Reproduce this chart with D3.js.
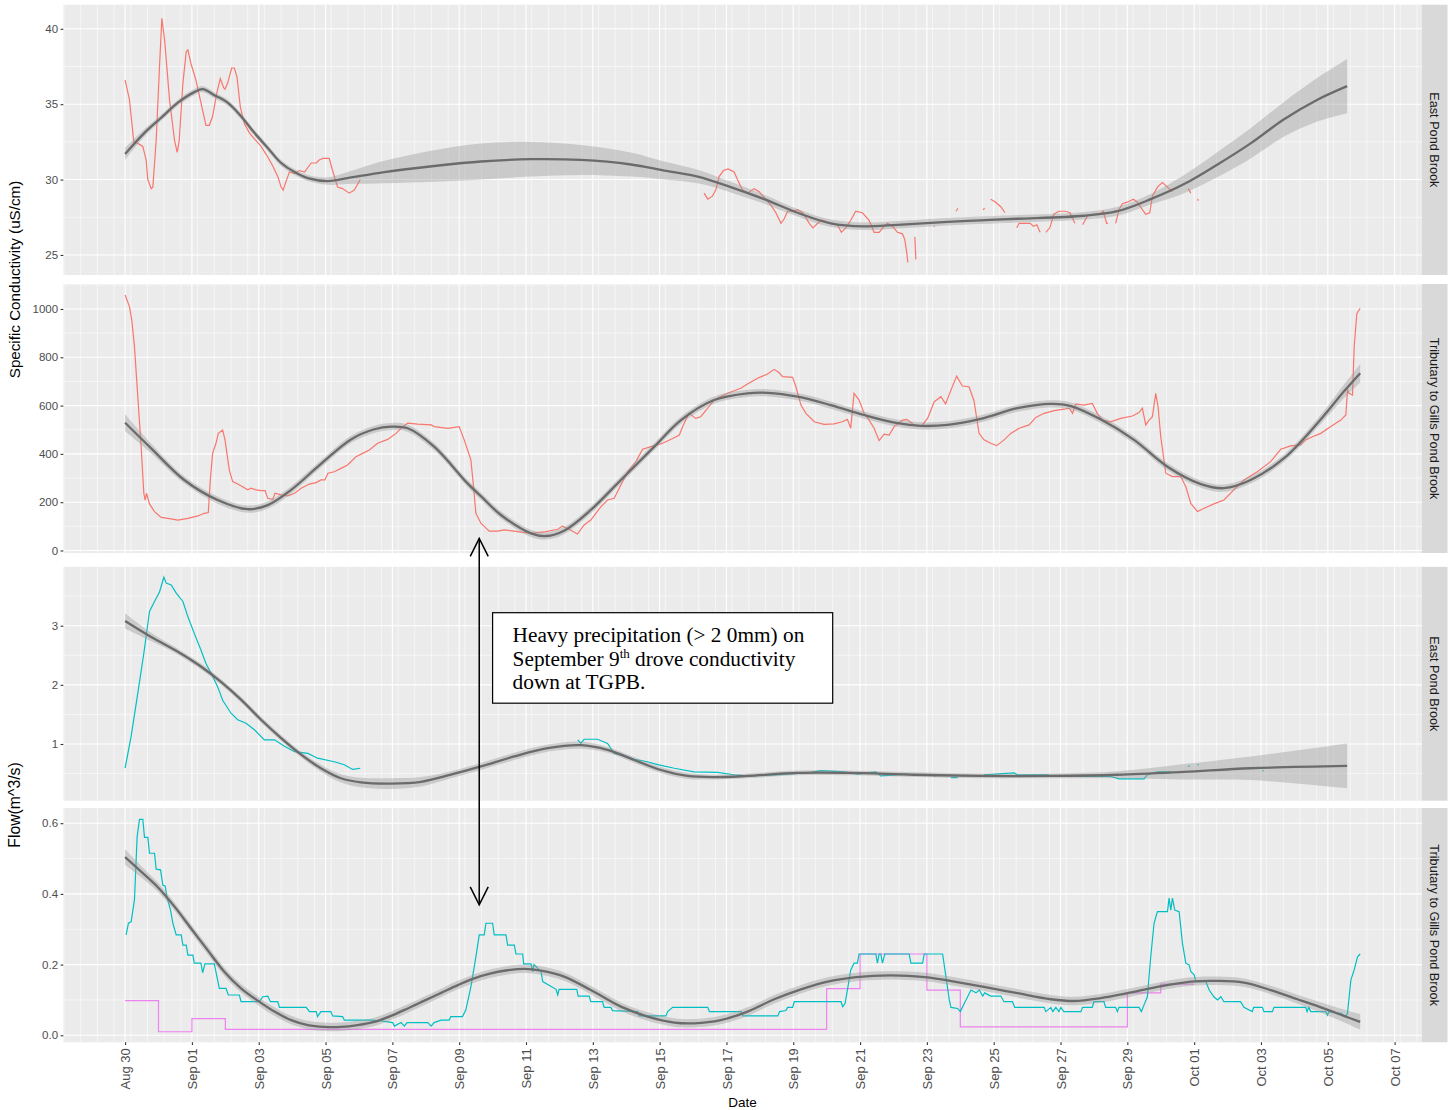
<!DOCTYPE html>
<html>
<head>
<meta charset="utf-8">
<script src="https://cdn.jsdelivr.net/npm/d3@7/dist/d3.min.js"></script>
<style>
  body { margin: 0; background: #fff; }
  svg { display: block; }
  text { font-family: "Liberation Sans", Arial, sans-serif; }
</style>
</head>
<body>
<div id="chart"></div>
<script>
// days are counted from Aug 30 00:00; null marks a gap in the record

const xTickDays = [0, 2, 4, 6, 8, 10, 12, 14, 16, 18, 20, 22, 24, 26, 28, 30, 32, 34, 36, 38];
const xTickLabels = ["Aug 30", "Sep 01", "Sep 03", "Sep 05", "Sep 07", "Sep 09", "Sep 11", "Sep 13",
  "Sep 15", "Sep 17", "Sep 19", "Sep 21", "Sep 23", "Sep 25", "Sep 27", "Sep 29",
  "Oct 01", "Oct 03", "Oct 05", "Oct 07"];

const stripLabels = ["East Pond Brook", "Tributary to Gills Pond Brook", "East Pond Brook", "Tributary to Gills Pond Brook"];

const condTicksEpb = [25, 30, 35, 40];
const condTicksTrb = [0, 200, 400, 600, 800, 1000];
const flowTicksEpb = [1, 2, 3];
const flowTicksTrb = [0, 0.2, 0.4, 0.6];

// East Pond Brook conductivity (uS/cm)
const epbCond = [
  [0.00,36.6],[0.13,35.3],[0.26,32.5],[0.38,32.4],[0.53,32.2],[0.63,31.3],[0.68,30.0],[0.78,29.4],[0.83,29.5],[0.93,32.6],
  [1.03,37.5],[1.10,40.7],[1.18,39.3],[1.33,35.3],[1.48,32.6],[1.56,31.8],[1.62,32.6],[1.73,36.4],[1.83,38.5],[1.88,38.6],
  [1.97,37.7],[2.12,36.6],[2.27,35.1],[2.42,33.6],[2.52,33.6],[2.62,34.2],[2.75,35.8],[2.85,36.7],[2.95,36.1],[2.99,36.0],
  [3.07,36.4],[3.19,37.4],[3.27,37.4],[3.35,36.8],[3.45,34.8],[3.57,33.7],[3.72,33.1],[3.87,32.7],[4.07,32.2],[4.27,31.5],
  [4.42,30.9],[4.57,30.2],[4.67,29.5],[4.73,29.3],[4.82,29.9],[4.92,30.5],[5.07,30.4],[5.22,30.6],[5.37,30.5],[5.57,31.1],
  [5.72,31.1],[5.81,31.3],[5.92,31.4],[6.11,31.4],[6.21,30.6],[6.36,29.5],[6.51,29.4],[6.71,29.1],[6.86,29.3],[7.04,30.0],
  null,
  [17.33,29.1],[17.44,28.7],[17.58,28.9],[17.68,29.3],[17.78,30.2],[17.91,30.6],[18.05,30.7],[18.23,30.5],[18.33,30.0],[18.48,29.3],
  [18.63,29.1],[18.83,29.4],[18.98,29.2],[19.13,28.8],[19.33,28.3],[19.48,27.8],[19.63,27.1],[19.73,27.4],[19.83,27.9],[19.98,27.9],
  [20.13,28.0],[20.28,27.8],[20.48,27.1],[20.59,26.8],[20.73,27.1],[20.87,27.3],[21.12,27.1],[21.32,27.0],[21.44,26.5],[21.57,26.8],
  [21.72,27.3],[21.87,27.9],[22.07,27.8],[22.27,27.3],[22.42,26.5],[22.57,26.5],[22.72,26.9],[22.82,27.1],[22.97,26.9],[23.12,26.5],
  [23.27,26.4],[23.34,26.0],[23.40,25.1],[23.43,24.5],
  null, [23.64,26.2],[23.67,24.7],
  null, [24.20,26.9],[24.23,26.9],
  null, [24.87,27.9],[24.93,28.1],
  null, [25.68,28.0],[25.73,28.1],
  null, [25.91,28.7],[26.06,28.5],[26.21,28.2],[26.34,27.8],
  null, [26.69,26.8],[26.76,27.1],[26.91,27.1],[27.09,27.1],[27.19,26.9],[27.29,27.0],[27.39,26.5],
  null, [27.56,26.5],[27.68,26.8],[27.80,27.7],[27.95,27.9],[28.15,27.9],[28.28,27.8],[28.43,27.1],
  null, [28.66,27.0],[28.81,27.6],[29.00,27.7],[29.18,27.7],[29.28,27.9],[29.38,27.1],[29.42,27.1],
  null, [29.65,27.1],[29.75,28.0],[29.85,28.4],[30.00,28.5],[30.18,28.7],[30.30,28.5],[30.45,28.0],[30.55,27.7],[30.67,27.8],
  [30.75,28.9],[30.90,29.5],[31.05,29.8],[31.20,29.5],[31.35,29.2],
  null, [31.82,29.4],[31.90,29.1],
  null, [32.10,28.7],[32.13,28.6]
];

// [day, fit, half band]
const epbCondFit = [
  [0,31.7,0.4],[0.58,33.1,0.25],[1.08,34.1,0.2],[1.58,35.1,0.2],[2.07,35.8,0.2],[2.32,36.0,0.2],[2.67,35.6,0.2],
  [3.07,35.1,0.2],[3.47,34.2,0.2],[3.87,33.1,0.2],[4.27,32.1,0.2],[4.67,31.1,0.2],[5.07,30.5,0.2],[5.47,30.1,0.2],
  [6.07,29.9,0.25],[6.66,30.1,0.4],[7.76,30.5,0.75],[9.25,30.9,1.05],[10.65,31.2,1.2],[12.15,31.35,1.15],
  [13.64,31.3,1.0],[15.14,31.0,0.8],[16.14,30.6,0.6],[17.14,30.2,0.45],[18.13,29.5,0.35],[19.13,28.7,0.3],
  [20.13,27.8,0.25],[21.12,27.1,0.25],[22.12,26.9,0.25],[23.12,27.0,0.25],[24.62,27.2,0.25],[25.61,27.3,0.25],
  [26.71,27.4,0.25],[28.70,27.6,0.25],[29.70,27.9,0.3],[30.70,28.7,0.35],[31.70,29.7,0.6],[32.70,31.0,0.83],
  [33.69,32.4,1.0],[34.69,34.0,1.15],[35.69,35.3,1.45],[36.58,36.2,1.8]
];

// Tributary to Gills Pond Brook conductivity (uS/cm)
const trbCond = [
  [0.00,1058],[0.13,1010],[0.20,954],[0.28,844],[0.38,637],[0.48,430],[0.56,237],[0.60,209],[0.64,237],[0.73,193],
  [0.88,161],[1.08,137],[1.28,133],[1.58,126],[1.88,133],[2.18,143],[2.37,154],[2.49,157],[2.55,292],[2.62,402],
  [2.72,444],[2.79,485],[2.92,499],[2.99,458],[3.12,333],[3.22,285],[3.37,275],[3.52,264],[3.67,251],[3.77,258],
  [3.92,251],[4.07,248],[4.19,248],[4.27,216],[4.42,212],[4.49,237],[4.67,230],[4.87,226],[5.07,237],[5.27,258],
  [5.51,275],[5.72,281],[5.86,292],[5.98,292],[6.07,320],[6.26,326],[6.46,340],[6.66,354],[6.91,388],[7.11,402],
  [7.31,416],[7.56,444],[7.86,460],[8.11,485],[8.31,513],[8.46,527],[8.76,523],[9.16,520],[9.25,513],[9.66,506],
  [10.00,513],[10.15,458],[10.35,375],[10.43,264],[10.50,154],[10.65,113],[10.90,80],[11.15,80],[11.35,85],[11.75,78],
  [12.15,71],[12.60,78],[12.95,88],[13.09,101],[13.29,88],[13.54,68],[13.74,106],[13.94,126],[14.24,181],[14.44,209],
  [14.64,216],[14.84,271],[15.04,326],[15.29,368],[15.49,419],[15.74,430],[16.09,444],[16.39,464],[16.59,478],[16.69,513],
  [16.88,568],[17.08,547],[17.23,554],[17.44,589],[17.63,623],[18.03,651],[18.43,672],[18.63,689],[18.93,713],[19.23,731],
  [19.43,750],[19.58,736],[19.68,720],[19.98,717],[20.08,678],[20.23,602],[20.38,568],[20.63,533],[20.92,522],[21.22,524],
  [21.47,533],[21.62,543],[21.72,506],[21.82,651],[21.97,623],[22.12,568],[22.27,540],[22.42,506],[22.57,455],[22.72,482],
  [22.87,478],[23.02,513],[23.27,540],[23.40,543],[23.62,520],[23.82,513],[24.02,547],[24.22,616],[24.42,637],[24.56,607],
  [24.72,664],[24.89,722],[25.06,681],[25.26,678],[25.41,620],[25.56,485],[25.71,458],[25.91,444],[26.09,434],[26.31,458],
  [26.51,485],[26.76,506],[27.06,520],[27.26,551],[27.51,568],[27.81,579],[28.11,585],[28.26,589],[28.36,568],[28.46,607],
  [28.70,602],[28.95,609],[29.10,568],[29.25,540],[29.50,533],[29.80,547],[30.15,557],[30.35,571],[30.45,589],[30.55,520],
  [30.65,540],[30.75,554],[30.85,651],[30.92,595],[31.00,471],[31.15,320],[31.35,306],[31.60,306],[31.75,264],[31.90,195],
  [32.10,161],[32.30,175],[32.59,193],[32.89,209],[33.19,251],[33.49,292],[33.89,326],[34.29,368],[34.59,419],[34.89,433],
  [35.19,437],[35.34,458],[35.54,471],[35.79,485],[36.09,513],[36.39,540],[36.54,561],[36.59,664],[36.64,651],[36.74,644],
  [36.79,844],[36.87,982],[36.97,1003]
];

const trbCondFit = [
  [0,529,35],[0.78,423,20],[1.77,292,15],[2.77,209,15],[3.67,171,15],[4.27,188,15],[4.97,251,15],[5.77,347,15],
  [6.76,460,15],[7.46,502,15],[7.96,513,15],[8.46,506,15],[9.25,430,15],[10.25,278,15],[10.65,225,15],[11.25,147,15],
  [12.15,71,15],[12.60,60,15],[13.14,82,15],[13.94,168,15],[14.84,292,15],[15.84,430,15],[16.64,540,15],[17.63,623,15],
  [18.63,651,15],[19.23,653,15],[20.13,637,15],[21.12,602,15],[22.12,561,15],[23.12,527,15],[23.82,516,15],[24.62,520,15],
  [25.61,545,15],[26.71,589,15],[27.71,607,15],[28.31,598,15],[29.20,543,15],[30.20,458,15],[31.20,347,15],[32.20,275,15],
  [32.89,258,15],[33.69,292,15],[34.69,382,15],[35.69,527,18],[36.48,658,28],[36.97,734,38]
];

// East Pond Brook flow (m^3/s)
const epbFlow = [
  [0.00,0.59],[0.18,1.13],[0.38,1.86],[0.56,2.53],[0.73,3.24],[0.88,3.41],[1.03,3.57],[1.16,3.82],[1.23,3.72],[1.38,3.69],
  [1.53,3.55],[1.73,3.41],[1.88,3.15],[2.07,2.87],[2.27,2.59],[2.42,2.36],[2.57,2.20],[2.77,1.97],[2.92,1.74],[3.17,1.52],
  [3.37,1.41],[3.62,1.35],[3.87,1.24],[4.17,1.07],[4.47,1.07],[4.77,0.96],[5.07,0.87],[5.47,0.84],[5.76,0.76],[6.26,0.70],
  [6.56,0.65],[6.81,0.57],[7.04,0.59],
  null,
  [13.55,1.07],[13.64,1.01],[13.74,1.08],[14.14,1.08],[14.44,1.01],[14.64,0.84],[14.94,0.80],[15.24,0.74],[15.64,0.70],
  [15.94,0.65],[16.44,0.59],[17.03,0.53],[17.73,0.52],[18.23,0.48],[18.63,0.46],[19.63,0.48],[20.53,0.52],[20.83,0.55],
  [21.52,0.53],[21.92,0.49],[22.47,0.53],[22.62,0.46],[23.42,0.49],[23.62,0.47],
  null, [24.20,0.46],[24.27,0.46],
  null, [24.72,0.43],[24.92,0.43],
  null, [25.71,0.48],[26.61,0.51],[26.71,0.48],[27.61,0.48],[27.71,0.46],[28.70,0.45],[29.50,0.45],[29.75,0.41],
  [30.50,0.41],[30.60,0.48],[30.90,0.53],[31.30,0.53],
  null, [31.82,0.62],[31.87,0.63],
  null, [32.10,0.65],[32.14,0.65],
  null, [34.04,0.55],[34.08,0.55]
];

const epbFlowFit = [
  [0,3.08,0.13],[0.78,2.81,0.07],[1.58,2.56,0.05],[2.27,2.31,0.05],[2.87,2.05,0.05],[3.47,1.75,0.05],[4.07,1.41,0.05],
  [4.67,1.10,0.05],[5.27,0.82,0.05],[5.86,0.59,0.06],[6.46,0.42,0.07],[7.06,0.35,0.08],[7.96,0.33,0.09],[8.86,0.36,0.08],
  [9.75,0.48,0.06],[10.65,0.62,0.06],[11.65,0.79,0.06],[12.65,0.93,0.06],[13.64,0.98,0.06],[14.44,0.90,0.05],
  [15.24,0.73,0.05],[16.04,0.56,0.05],[16.84,0.46,0.05],[17.63,0.44,0.04],[18.63,0.46,0.04],[20.13,0.51,0.04],
  [21.62,0.51,0.04],[23.62,0.48,0.04],[25.61,0.46,0.04],[27.71,0.46,0.04],[29.70,0.48,0.06],[31.70,0.53,0.13],
  [33.69,0.59,0.2],[36.58,0.63,0.38]
];

// Tributary to Gills Pond Brook flow (m^3/s)
const trbFlow = [
  [0.03,0.284],[0.10,0.317],[0.18,0.321],[0.28,0.383],[0.36,0.562],[0.43,0.611],[0.53,0.611],[0.58,0.560],[0.68,0.560],
  [0.73,0.515],[0.88,0.515],[0.93,0.470],[1.06,0.468],[1.13,0.425],[1.20,0.422],[1.26,0.388],[1.36,0.354],[1.43,0.317],
  [1.53,0.284],[1.68,0.284],[1.73,0.255],[1.83,0.255],[1.88,0.227],[2.03,0.227],[2.07,0.204],[2.27,0.204],[2.32,0.177],
  [2.39,0.202],[2.67,0.202],[2.82,0.133],[3.02,0.133],[3.09,0.114],[3.42,0.114],[3.47,0.095],[4.02,0.095],[4.12,0.109],
  [4.27,0.111],[4.35,0.095],[4.57,0.095],[4.62,0.079],[5.42,0.079],[5.52,0.067],[5.72,0.067],[5.76,0.053],[5.86,0.067],
  [6.16,0.067],[6.21,0.055],[6.51,0.053],[6.56,0.043],[7.36,0.043],[7.66,0.041],[8.01,0.036],[8.06,0.026],[8.26,0.036],
  [8.36,0.026],[8.44,0.036],[9.06,0.036],[9.16,0.026],[9.25,0.036],[9.46,0.043],[9.70,0.043],[9.75,0.053],[10.10,0.053],
  [10.20,0.072],[10.35,0.137],[10.50,0.222],[10.60,0.284],[10.75,0.284],[10.80,0.317],[11.00,0.317],[11.05,0.284],
  [11.40,0.284],[11.45,0.255],[11.65,0.255],[11.70,0.230],[11.90,0.230],[11.93,0.202],[12.15,0.202],[12.20,0.180],
  [12.24,0.200],[12.45,0.180],[12.50,0.152],[12.90,0.130],[12.95,0.114],[12.99,0.130],[13.52,0.130],[13.56,0.111],
  [13.89,0.111],[13.94,0.095],[14.29,0.095],[14.34,0.079],[14.54,0.079],[14.59,0.070],[15.34,0.067],[15.39,0.055],
  [16.19,0.055],[16.24,0.067],[16.39,0.079],[17.44,0.079],[17.49,0.067],[18.44,0.067],[18.49,0.055],[19.54,0.055],
  [19.59,0.067],[19.78,0.070],[19.83,0.079],[19.98,0.079],[20.03,0.095],[21.43,0.095],[21.48,0.081],[21.55,0.090],
  [21.62,0.128],[21.72,0.185],[21.82,0.204],[21.92,0.204],[21.97,0.230],[22.47,0.230],[22.52,0.204],[22.57,0.230],
  [22.62,0.230],[22.67,0.204],[22.74,0.230],[23.47,0.230],[23.52,0.204],[23.87,0.204],[23.92,0.230],[24.47,0.230],
  [24.57,0.166],[24.67,0.100],[24.72,0.079],[24.92,0.076],[25.00,0.067],[25.17,0.100],[25.32,0.128],[25.47,0.120],
  [25.57,0.128],[25.67,0.111],[25.73,0.120],[25.91,0.111],[26.21,0.111],[26.31,0.095],[26.56,0.095],[26.63,0.079],
  [27.51,0.079],[27.56,0.067],[27.71,0.079],[27.77,0.067],[27.86,0.079],[27.95,0.067],[28.01,0.079],[28.10,0.067],
  [28.61,0.067],[28.66,0.079],[28.95,0.079],[29.00,0.095],[29.30,0.095],[29.35,0.079],[29.65,0.079],[29.70,0.067],
  [29.75,0.079],[30.35,0.079],[30.42,0.067],[30.50,0.086],[30.60,0.109],[30.70,0.222],[30.80,0.317],[30.90,0.350],
  [31.20,0.350],[31.25,0.388],[31.30,0.354],[31.35,0.388],[31.42,0.354],[31.55,0.350],[31.65,0.260],[31.75,0.204],
  [31.85,0.199],[31.90,0.180],[32.00,0.171],[32.05,0.152],[32.35,0.152],[32.45,0.128],[32.59,0.109],[32.70,0.100],
  [32.80,0.109],[32.89,0.095],[33.39,0.095],[33.49,0.079],[33.74,0.067],[33.78,0.079],[34.04,0.079],[34.09,0.067],
  [34.34,0.067],[34.39,0.079],[35.34,0.079],[35.38,0.067],[35.43,0.079],[35.49,0.067],[35.94,0.067],[35.99,0.057],
  [36.03,0.067],[36.39,0.062],[36.54,0.053],[36.59,0.062],[36.69,0.156],[36.79,0.185],[36.89,0.222],[36.97,0.230]
];

// daily step record for the tributary (m^3/s), each value holds until the next day listed
const trbFlowDaily = [
  [0,0.098],[1,0.010],[2,0.047],[3,0.017],[21,0.132],[22,0.230],[24,0.128],[25,0.024],[30,0.120],[31,0.145],[32,0.145]
];

const trbFlowFit = [
  [0,0.504,0.022],[0.48,0.463,0.016],[0.98,0.419,0.013],[1.48,0.364,0.012],[1.97,0.303,0.012],[2.47,0.241,0.012],
  [2.97,0.180,0.012],[3.47,0.133,0.012],[3.97,0.098,0.012],[4.47,0.067,0.012],[4.97,0.043,0.012],[5.47,0.029,0.012],
  [5.96,0.024,0.012],[6.46,0.024,0.012],[6.96,0.029,0.012],[7.46,0.038,0.012],[7.96,0.055,0.012],[8.46,0.076,0.012],
  [8.96,0.098,0.012],[9.46,0.120,0.012],[9.96,0.142,0.012],[10.45,0.161,0.012],[10.95,0.175,0.012],[11.45,0.184,0.012],
  [11.95,0.188,0.012],[12.45,0.183,0.012],[13.14,0.166,0.012],[13.94,0.128,0.012],[14.84,0.081,0.012],[15.64,0.053,0.012],
  [16.44,0.036,0.012],[17.03,0.034,0.012],[17.83,0.043,0.012],[18.63,0.067,0.012],[19.43,0.102,0.012],[20.23,0.130,0.012],
  [21.03,0.152,0.012],[21.82,0.164,0.012],[22.62,0.169,0.012],[23.22,0.169,0.012],[24.02,0.164,0.012],[24.82,0.152,0.012],
  [25.71,0.137,0.012],[26.71,0.119,0.012],[27.71,0.102,0.012],[28.40,0.097,0.012],[29.20,0.105,0.012],[30.00,0.119,0.012],
  [30.90,0.137,0.012],[31.90,0.152,0.012],[32.70,0.154,0.012],[33.49,0.149,0.012],[34.29,0.128,0.012],[35.09,0.102,0.013],
  [35.88,0.076,0.015],[36.48,0.055,0.018],[36.97,0.038,0.022]
];

// ------------------------------------------------------------------

const W = 1452, H = 1110;
const plotL = 63.3, plotR = 1422, stripR = 1447.5;

const base = Date.UTC(2017, 7, 30);
const day = t => new Date(base + t * 864e5);

const x = d3.scaleUtc().domain([day(-1.85), day(38.82)]).range([plotL, plotR]);

const panels = [
  { top: 4.7, bottom: 275, domain: [23.67, 41.6], ticks: condTicksEpb, fmt: d3.format("d"),
    lines: [{ data: epbCond, color: "#F8766D" }], fit: epbCondFit },
  { top: 284, bottom: 553, domain: [-10.4, 1103.5], ticks: condTicksTrb, fmt: d3.format("d"),
    lines: [{ data: trbCond, color: "#F8766D" }], fit: trbCondFit },
  { top: 566.8, bottom: 800.7, domain: [0.041, 3.996], ticks: flowTicksEpb, fmt: d3.format("d"),
    lines: [{ data: epbFlow, color: "#00BFC4" }], fit: epbFlowFit },
  { top: 808, bottom: 1042.3, domain: [-0.0198, 0.643], ticks: flowTicksTrb, fmt: d3.format(".1f"),
    lines: [{ data: trbFlowDaily, color: "#EE82EE", step: true }, { data: trbFlow, color: "#00BFC4" }], fit: trbFlowFit }
];

const svg = d3.select("#chart").append("svg")
  .attr("width", W)
  .attr("height", H);

svg.append("rect").attr("width", W).attr("height", H).attr("fill", "#fff");

// vertical grid: majors on the labelled days, minors every 12 h
const xMajor = xTickDays.map(day);
const xMinor = d3.range(-1.83, 38.8, 0.5).map(day);

const scales = [];

panels.forEach((p, i) => {
  const y = d3.scaleLinear().domain(p.domain).range([p.bottom, p.top]);
  scales.push(y);
  const g = svg.append("g");

  g.append("clipPath").attr("id", "clip" + i)
    .append("rect")
    .attr("x", plotL).attr("y", p.top)
    .attr("width", plotR - plotL).attr("height", p.bottom - p.top);

  g.append("rect")
    .attr("x", plotL).attr("y", p.top)
    .attr("width", plotR - plotL).attr("height", p.bottom - p.top)
    .attr("fill", "#EBEBEB");

  const step = p.ticks[1] - p.ticks[0];
  const yMinor = d3.range(p.ticks[0] - step / 2, p.domain[1], step).filter(v => v > p.domain[0]);

  const grid = g.append("g").attr("clip-path", `url(#clip${i})`);
  grid.selectAll(".ymin").data(yMinor).enter().append("line")
    .attr("x1", plotL).attr("x2", plotR)
    .attr("y1", d => y(d)).attr("y2", d => y(d))
    .attr("stroke", "#fff").attr("stroke-width", 0.55);
  grid.selectAll(".xmin").data(xMinor).enter().append("line")
    .attr("x1", d => x(d)).attr("x2", d => x(d))
    .attr("y1", p.top).attr("y2", p.bottom)
    .attr("stroke", "#fff").attr("stroke-width", 0.55);
  grid.selectAll(".ymaj").data(p.ticks).enter().append("line")
    .attr("x1", plotL).attr("x2", plotR)
    .attr("y1", d => y(d)).attr("y2", d => y(d))
    .attr("stroke", "#fff").attr("stroke-width", 1.1);
  grid.selectAll(".xmaj").data(xMajor).enter().append("line")
    .attr("x1", d => x(d)).attr("x2", d => x(d))
    .attr("y1", p.top).attr("y2", p.bottom)
    .attr("stroke", "#fff").attr("stroke-width", 1.1);

  const marks = g.append("g").attr("clip-path", `url(#clip${i})`);

  // data lines
  p.lines.forEach(s => {
    const line = d3.line()
      .defined(d => d != null)
      .x(d => x(day(d[0])))
      .y(d => y(d[1]))
      .curve(s.step ? d3.curveStepAfter : d3.curveLinear);
    marks.append("path")
      .datum(s.data)
      .attr("d", line)
      .attr("fill", "none")
      .attr("stroke", s.color)
      .attr("stroke-width", 1.2);
  });

  // smoother with its band
  const band = d3.area()
    .x(d => x(day(d[0])))
    .y0(d => y(d[1] - d[2]))
    .y1(d => y(d[1] + d[2]))
    .curve(d3.curveCatmullRom);
  marks.append("path")
    .datum(p.fit)
    .attr("d", band)
    .attr("fill", "#999999")
    .attr("fill-opacity", 0.4);

  const fitLine = d3.line()
    .x(d => x(day(d[0])))
    .y(d => y(d[1]))
    .curve(d3.curveCatmullRom);
  marks.append("path")
    .datum(p.fit)
    .attr("d", fitLine)
    .attr("fill", "none")
    .attr("stroke", "#6B6B6B")
    .attr("stroke-width", 2.3);

  // y axis
  const ax = g.append("g")
    .attr("transform", `translate(${plotL},0)`)
    .call(d3.axisLeft(y).tickValues(p.ticks).tickFormat(p.fmt).tickSize(2.7).tickPadding(2.5));
  ax.select(".domain").remove();
  ax.selectAll(".tick line").attr("stroke", "#333333").attr("stroke-width", 1.1);
  ax.selectAll(".tick text")
    .attr("fill", "#4D4D4D")
    .style("font-size", "11.5px")
    .style("font-family", "'Liberation Sans', Arial, sans-serif");

  // facet strip
  g.append("rect")
    .attr("x", plotR).attr("y", p.top)
    .attr("width", stripR - plotR).attr("height", p.bottom - p.top)
    .attr("fill", "#D9D9D9");
  g.append("text")
    .attr("transform", `translate(${(plotR + stripR) / 2},${(p.top + p.bottom) / 2}) rotate(90)`)
    .attr("text-anchor", "middle")
    .attr("dy", "0.35em")
    .attr("fill", "#1A1A1A")
    .style("font-size", "12.7px")
    .text(stripLabels[i]);
});

// x axis under the last panel
const bottomPanel = panels[panels.length - 1];
const xa = svg.append("g")
  .attr("transform", `translate(0,${bottomPanel.bottom})`)
  .call(d3.axisBottom(x).tickValues(xMajor).tickFormat((d, i) => xTickLabels[i]).tickSize(2.7));
xa.select(".domain").remove();
xa.selectAll(".tick line").attr("stroke", "#333333").attr("stroke-width", 1.1);
xa.selectAll(".tick text")
  .attr("transform", "rotate(-90)")
  .attr("x", -6)
  .attr("y", 0)
  .attr("dy", "0.35em")
  .attr("text-anchor", "end")
  .attr("fill", "#4D4D4D")
  .style("font-size", "13px")
  .style("font-family", "'Liberation Sans', Arial, sans-serif");

// axis titles
svg.append("text")
  .attr("transform", "translate(20,279.5) rotate(-90)")
  .attr("text-anchor", "middle")
  .style("font-size", "15.2px")
  .text("Specific Conductivity (uS/cm)");

svg.append("text")
  .attr("transform", "translate(20,805) rotate(-90)")
  .attr("text-anchor", "middle")
  .style("font-size", "15.8px")
  .text("Flow(m^3/s)");

svg.append("text")
  .attr("x", 742.5)
  .attr("y", 1106.5)
  .attr("text-anchor", "middle")
  .style("font-size", "13.5px")
  .text("Date");

// annotation: arrow from the conductivity drop down to the flow peak, and the note
const arrowDay = 10.6;
const ax0 = x(day(arrowDay));
const ay0 = scales[1](50);
const ay1 = scales[3](0.369);
const ann = svg.append("g").attr("stroke", "#000").attr("stroke-width", 1.5).attr("fill", "none");
ann.append("line").attr("x1", ax0).attr("x2", ax0).attr("y1", ay0).attr("y2", ay1);
ann.append("polyline").attr("points", `${ax0 - 9},${ay0 + 18} ${ax0},${ay0} ${ax0 + 9},${ay0 + 18}`);
ann.append("polyline").attr("points", `${ax0 - 9},${ay1 - 18} ${ax0},${ay1} ${ax0 + 9},${ay1 - 18}`);

const bx0 = x(day(11.0)), bx1 = x(day(21.18));
const by0 = scales[2](3.22), by1 = scales[2](1.69);
svg.append("rect")
  .attr("x", bx0).attr("y", by0)
  .attr("width", bx1 - bx0).attr("height", by1 - by0)
  .attr("fill", "#fff")
  .attr("stroke", "#000")
  .attr("stroke-width", 1.2);

const note = svg.append("text")
  .attr("x", bx0 + 20)
  .attr("y", by0 + 29)
  .style("font-family", "'Liberation Serif', 'Times New Roman', serif")
  .style("font-size", "21.3px")
  .attr("fill", "#000");
note.append("tspan").attr("x", bx0 + 20).text("Heavy precipitation (> 2 0mm) on");
const l2 = note.append("tspan").attr("x", bx0 + 20).attr("dy", 24.3);
l2.append("tspan").text("September 9");
l2.append("tspan").attr("dy", -8).style("font-size", "13px").text("th");
l2.append("tspan").attr("dy", 8).text(" drove conductivity");
note.append("tspan").attr("x", bx0 + 20).attr("dy", 23.5).text("down at TGPB.");
</script>
</body>
</html>
